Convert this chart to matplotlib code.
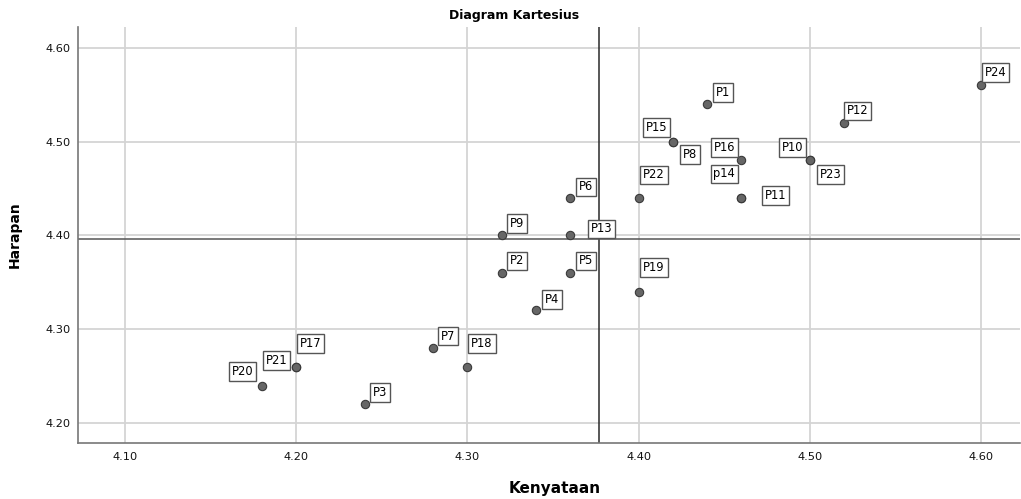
import matplotlib
matplotlib.use("Agg")
import matplotlib.pyplot as plt
import numpy as np

labels = ["P1", "P2", "P3", "P4", "P5", "P6", "P7", "P8", "P9", "P10", "P11", "P12",
          "P13", "p14", "P15", "P16", "P17", "P18", "P19", "P20", "P21", "P22", "P23", "P24"]
kenyataan = [4.44, 4.32, 4.24, 4.34, 4.36, 4.36, 4.28, 4.42, 4.32, 4.50, 4.46, 4.52,
             4.36, 4.46, 4.42, 4.46, 4.20, 4.30, 4.40, 4.18, 4.20, 4.40, 4.50, 4.60]
harapan = [4.54, 4.36, 4.22, 4.32, 4.36, 4.44, 4.28, 4.50, 4.40, 4.48, 4.44, 4.52,
           4.40, 4.44, 4.50, 4.48, 4.26, 4.26, 4.34, 4.24, 4.26, 4.44, 4.48, 4.56]
x_ticks = [4.10, 4.20, 4.30, 4.40, 4.50, 4.60]
y_ticks = [4.20, 4.30, 4.40, 4.50, 4.60]

# label offsets (pixels, box centre relative to point)
offsets = {
    "P1": (15.5, 12), "P24": (14.5, 13), "P12": (13.5, 12), "P15": (-16.5, 14),
    "P8": (17, -13), "P16": (-17, 13), "p14": (-17, 24), "P11": (34.5, 2.5),
    "P10": (-17.5, 13), "P23": (20.5, -14), "P22": (15.5, 23), "P6": (16, 11),
    "P13": (31.5, 6.5), "P9": (15, 12), "P2": (15, 12), "P5": (16, 12),
    "P19": (15.5, 24), "P4": (16, 11), "P7": (15, 12), "P18": (14.5, 23),
    "P17": (14.5, 23.5), "P21": (-19.5, 6), "P20": (-19.5, 14), "P3": (15, 11.5),
}

plt.rcParams['font.family'] = ['DejaVu Sans']

fig = plt.figure(figsize=(10.21, 4.99), dpi=100)
ax = fig.add_axes([78/1021, 1 - 443/499, (1020 - 78)/1021, (443 - 27)/499])

ax.set_xlim(4.0725, 4.6228)
ax.set_ylim(4.1787, 4.6223)
ax.set_xticks(x_ticks)
ax.set_yticks(y_ticks)
ax.set_xticklabels([f"{v:.2f}" for v in x_ticks], fontsize=8.2)
ax.set_yticklabels([f"{v:.2f}" for v in y_ticks], fontsize=8.2)
ax.tick_params(axis='x', length=0, pad=6.5, colors='#111111')
ax.tick_params(axis='y', length=0, pad=5, colors='#111111')
ax.grid(True, color='#d4d4d4', linewidth=1.3)
ax.set_axisbelow(True)
for s in ['top', 'right']:
    ax.spines[s].set_visible(False)
for s in ['left', 'bottom']:
    ax.spines[s].set_color('#777777')
    ax.spines[s].set_linewidth(1.2)

mx = np.mean(kenyataan)
my = np.mean(harapan)
ax.axvline(mx, color='#2a2a2a', linewidth=1.1, zorder=2)
ax.axhline(my, color='#555555', linewidth=1.1, zorder=2)

ax.scatter(kenyataan, harapan, s=36, facecolor='#666666', edgecolor='#3a3a3a',
           linewidth=0.8, zorder=4)

for lab, x, y in zip(labels, kenyataan, harapan):
    dx, dy = offsets[lab]
    ax.annotate(lab, (x, y), xytext=(dx, dy), textcoords='offset pixels',
                ha='center', va='center', fontsize=8.3, color='#000000',
                bbox=dict(boxstyle='square,pad=0.25', facecolor='white',
                          edgecolor='#555555', linewidth=1.0), zorder=5)

fig.text(555/1021, 1 - 489/499, "Kenyataan", ha='center', va='center',
         fontsize=11, fontweight='bold')
fig.text(15/1021, 1 - 235/499, "Harapan", ha='center', va='center',
         fontsize=10, fontweight='bold', rotation=90)
fig.text(514/1021, 1 - 15/499, "Diagram Kartesius", ha='center', va='center',
         fontsize=9, fontweight='bold')

fig.savefig("out.png", dpi=100)
